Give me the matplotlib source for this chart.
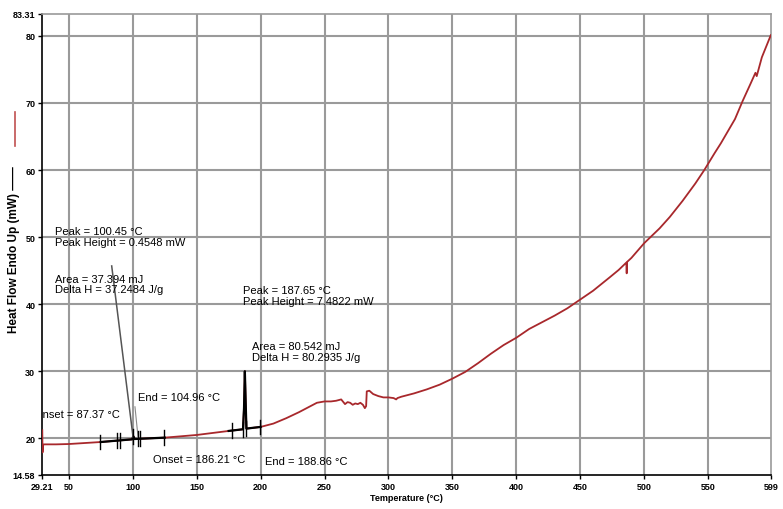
import matplotlib.pyplot as plt
import numpy as np
from matplotlib.lines import Line2D

plt.rcParams['font.family'] = ['Liberation Sans', 'DejaVu Sans']

# DSC heat flow curve
temp = [29.21, 29.4, 29.8, 31, 40, 50, 75, 99.5, 100.45, 101.5, 125, 150, 175,
        186.2, 187.0, 187.65, 188.2, 188.86, 200, 210, 220, 230, 240, 244, 250,
        255, 259, 263, 266, 268, 270, 272, 274, 276, 278, 280, 281.5, 282.5, 283,
        285, 288, 292, 296, 300, 304, 306, 307, 310, 320, 330, 340, 350, 360, 370,
        380, 390, 400, 410, 420, 430, 440, 450, 460, 473, 480, 486, 486.3, 486.6,
        490, 500, 512, 520, 530, 540, 547, 555, 560, 571, 577, 583, 587, 588,
        592, 599]
heat_flow = [21.2, 17.9, 19.05, 19.1, 19.1, 19.15, 19.45, 19.85, 20.3, 19.9, 20.1,
             20.5, 21.1, 21.35, 24.5, 30.0, 26.0, 21.45, 21.7, 22.2, 23.0, 23.9,
             24.9, 25.3, 25.5, 25.5, 25.6, 25.8, 25.1, 25.4, 25.3, 25.0, 25.2, 25.1,
             25.3, 25.0, 24.5, 24.8, 27.0, 27.1, 26.6, 26.3, 26.1, 26.1, 26.0, 25.8,
             26.0, 26.2, 26.7, 27.3, 28.0, 28.9, 29.9, 31.2, 32.6, 33.9, 35.0, 36.3,
             37.3, 38.3, 39.4, 40.7, 42.0, 44.0, 45.1, 46.2, 44.6, 46.3, 46.9, 49.1,
             51.3, 53.0, 55.4, 58.0, 60.0, 62.5, 64.0, 67.6, 70.3, 72.8, 74.5, 74.0,
             76.8, 80.1]

# peak analysis baseline ranges and limit markers
base_ranges = [(73, 125), (175, 200)]
limit_marks = [74.5, 87.4, 90.0, 100.45, 104.4, 105.7, 124.7, 177.4, 186.2, 188.9, 199.5]

x_ticks = [29.21, 50, 100, 150, 200, 250, 300, 350, 400, 450, 500, 550, 599]
x_labels = ['29.21', '50', '100', '150', '200', '250', '300', '350', '400', '450', '500', '550', '599']
y_ticks = [14.58, 20, 30, 40, 50, 60, 70, 80, 83.31]
y_labels = ['14.58', '20', '30', '40', '50', '60', '70', '80', '83.31']

temp = np.array(temp)
heat_flow = np.array(heat_flow)

fig = plt.figure(figsize=(7.83, 5.10), dpi=100)
ax = fig.add_axes([0.054, 0.0673, 0.9304, 0.9039])

for g in range(50, 600, 50):
    ax.axvline(g, color='#9a9a9a', lw=1.5, zorder=0)
for g in range(20, 90, 10):
    ax.axhline(g, color='#9a9a9a', lw=1.5, zorder=0)

ax.plot(temp, heat_flow, color='#a8282c', lw=1.3, zorder=3)

for lo, hi in base_ranges:
    m = (temp >= lo) & (temp <= hi)
    ax.plot(temp[m], heat_flow[m], color='black', lw=1.6, zorder=4)

for t in limit_marks:
    v = np.interp(t, temp, heat_flow)
    if 186 < t < 189:
        v = np.interp(t, [175, 200], [21.1, 21.7])
    ax.plot([t, t], [v - 1.1, v + 1.1], color='black', lw=1.0, zorder=5)

# leader lines
ax.plot([83.5, 100.2], [45.7, 20.2], color='#555555', lw=1.1, zorder=4)
ax.plot([101.7, 104.1], [24.7, 20.2], color='#888888', lw=0.8, zorder=4)

fs = 8
txt = dict(fontsize=fs, ha='left', va='center', linespacing=1.1, zorder=6)
ax.text(38.8, 50.1, 'Peak = 100.45 °C\nPeak Height = 0.4548 mW', **txt)
ax.text(38.8, 43.0, 'Area = 37.394 mJ\nDelta H = 37.2484 J/g', **txt)
ax.text(186.4, 41.25, 'Peak = 187.65 °C\nPeak Height = 7.4822 mW', **txt)
ax.text(193.0, 33.0, 'Area = 80.542 mJ\nDelta H = 80.2935 J/g', **txt)
ax.text(104.3, 26.1, 'End = 104.96 °C', **txt)
ax.text(22.7, 23.6, 'Onset = 87.37 °C', clip_on=True, **txt)
ax.text(116.0, 16.9, 'Onset = 186.21 °C', **txt)
ax.text(203.4, 16.67, 'End = 188.86 °C', **txt)

ax.set_xlim(29.21, 599)
ax.set_ylim(14.58, 83.31)
ax.set_xticks(x_ticks)
ax.set_xticklabels(x_labels)
ax.set_yticks(y_ticks)
ax.set_yticklabels(y_labels)
ax.tick_params(labelsize=6.5, length=3, width=1, pad=2)
for lab in ax.get_xticklabels() + ax.get_yticklabels():
    lab.set_fontweight('bold')

for s in ax.spines.values():
    s.set_linewidth(1.2)
ax.spines['top'].set_color('#9a9a9a')
ax.spines['right'].set_color('#9a9a9a')

ax.set_xlabel('Temperature (°C)', fontsize=6.5, fontweight='bold', labelpad=2)
ax.set_ylabel('Heat Flow Endo Up (mW) ——', fontsize=8.5, fontweight='bold')
ax.yaxis.set_label_coords(-0.031, 0.49)

fig.add_artist(Line2D([0.019, 0.019], [0.712, 0.778], color='#c05050', lw=1.2,
                      transform=fig.transFigure))

fig.savefig('out.png', dpi=100)
